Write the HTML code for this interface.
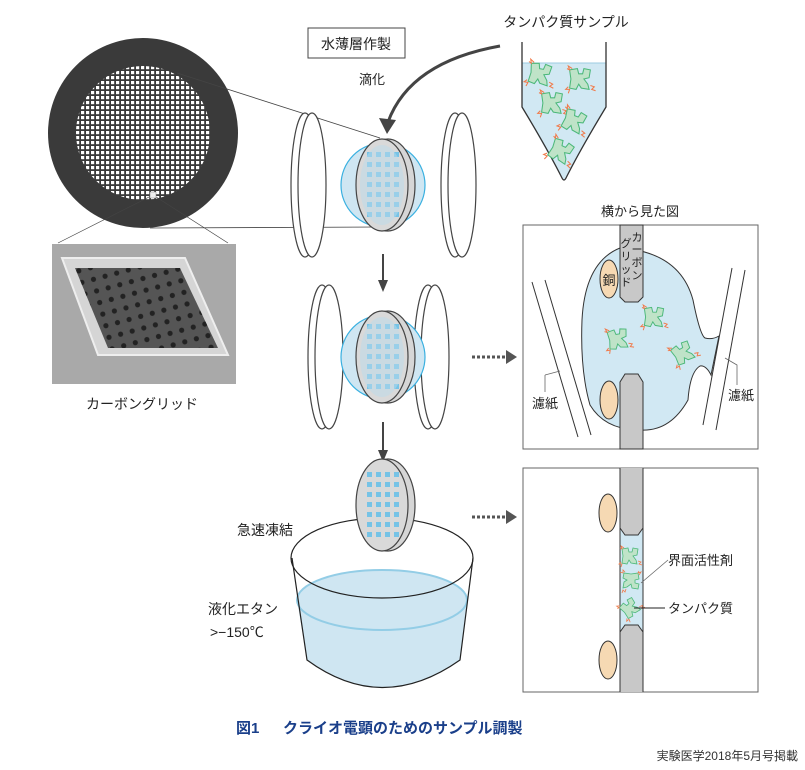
<!DOCTYPE html>
<html><head><meta charset="utf-8"><style>
html,body{margin:0;padding:0;background:#fff}
svg{display:block}
text{font-family:"Liberation Sans","Noto Sans CJK JP",sans-serif;fill:#222}
</style></head><body>
<svg width="805" height="770" viewBox="0 0 805 770" xmlns="http://www.w3.org/2000/svg">
<defs>
<g id="prot">
<path d="M-8,-7 L-2,-8 L-1,-4 L2,-4 L3,-8 L8,-7 L7,-1 L3,0 L6,4 L7,8 L1,7 L-1,4 L-3,8 L-8,7 L-7,0 Z" fill="#bfe3c8" stroke="#4cb87a" stroke-width="0.8"/>
<path d="M-10,-8 l2,1 l-1,-3 l3,2 M8,5 l3,1 l-2,2 l3,1 M-9,6 l-2,2 l3,0 l-1,3" fill="none" stroke="#f07a4a" stroke-width="0.8"/>
</g>
<g id="gridsq" fill="#76c3e6">
<rect x="-15" y="-33" width="5" height="5"/><rect x="-6" y="-33" width="5" height="5"/><rect x="3" y="-33" width="5" height="5"/><rect x="12" y="-33" width="5" height="5"/>
<rect x="-15" y="-23" width="5" height="5"/><rect x="-6" y="-23" width="5" height="5"/><rect x="3" y="-23" width="5" height="5"/><rect x="12" y="-23" width="5" height="5"/>
<rect x="-15" y="-13" width="5" height="5"/><rect x="-6" y="-13" width="5" height="5"/><rect x="3" y="-13" width="5" height="5"/><rect x="12" y="-13" width="5" height="5"/>
<rect x="-15" y="-3" width="5" height="5"/><rect x="-6" y="-3" width="5" height="5"/><rect x="3" y="-3" width="5" height="5"/><rect x="12" y="-3" width="5" height="5"/>
<rect x="-15" y="7" width="5" height="5"/><rect x="-6" y="7" width="5" height="5"/><rect x="3" y="7" width="5" height="5"/><rect x="12" y="7" width="5" height="5"/>
<rect x="-15" y="17" width="5" height="5"/><rect x="-6" y="17" width="5" height="5"/><rect x="3" y="17" width="5" height="5"/><rect x="12" y="17" width="5" height="5"/>
<rect x="-15" y="27" width="5" height="5"/><rect x="-6" y="27" width="5" height="5"/><rect x="3" y="27" width="5" height="5"/><rect x="12" y="27" width="5" height="5"/>
</g>
<g id="disk">
<ellipse cx="6" cy="0" rx="27" ry="46" fill="#d6d6d6" stroke="#444" stroke-width="1.2"/>
<ellipse cx="0" cy="0" rx="26" ry="46" fill="#d9d9d9" stroke="#444" stroke-width="1.2"/>
<use href="#gridsq"/>
</g>
<g id="lens" fill="none" stroke="#444" stroke-width="1.2">
<ellipse cx="0" cy="0" rx="14" ry="72" fill="#fff"/>
<ellipse cx="7" cy="0" rx="14" ry="72" fill="#fff"/>
</g>
<pattern id="mesh" width="5" height="5" patternUnits="userSpaceOnUse">
<rect width="5" height="5" fill="#3a3a3a"/><rect x="1" y="1" width="3.2" height="3.2" fill="#fff"/>
</pattern>
<pattern id="holes" width="12" height="12" patternUnits="userSpaceOnUse" patternTransform="rotate(-15)">
<circle cx="6" cy="6" r="2.6" fill="#222"/>
</pattern>
</defs>

<!-- left grid -->
<circle cx="143" cy="133" r="95" fill="#3a3a3a"/>
<circle cx="143" cy="133" r="67" fill="url(#mesh)"/>
<line x1="177" y1="73" x2="380" y2="138" stroke="#444" stroke-width="0.8"/>
<line x1="150" y1="228" x2="380" y2="227" stroke="#444" stroke-width="0.8"/>
<line x1="153" y1="195" x2="58" y2="243" stroke="#444" stroke-width="0.7"/>
<line x1="153" y1="195" x2="228" y2="243" stroke="#444" stroke-width="0.7"/>
<rect x="150" y="192" width="6" height="6" fill="#eee" stroke="#888" stroke-width="0.5"/>
<rect x="52" y="244" width="184" height="140" fill="#a9a9a9"/>
<path d="M62,258 L185,258 L228,355 L98,355 Z" fill="#d5d5d5" stroke="#eee" stroke-width="2"/>
<path d="M75,268 L180,268 L218,348 L108,348 Z" fill="#555"/>
<path d="M75,268 L180,268 L218,348 L108,348 Z" fill="url(#holes)"/>
<text x="142" y="409" font-size="14" text-anchor="middle">カーボングリッド</text>

<!-- top labels -->
<rect x="308" y="28" width="97" height="30" fill="#fff" stroke="#444" stroke-width="1"/>
<text x="356" y="49" font-size="14" text-anchor="middle">水薄層作製</text>
<text x="372" y="84" font-size="13" text-anchor="middle">滴化</text>
<text x="566" y="27" font-size="14" text-anchor="middle">タンパク質サンプル</text>
<path d="M500,46 Q410,62 388,122" fill="none" stroke="#444" stroke-width="3"/>
<path d="M379,118 L387,134 L396,120 Z" fill="#444"/>

<!-- tube -->
<path d="M522,63 L606,63 L606,107 Q580,150 566,178 Q564,182 562,178 Q546,150 522,107 Z" fill="#d1e8f3"/>
<line x1="522" y1="63" x2="606" y2="63" stroke="#9ccbe0" stroke-width="1"/>
<path d="M522,42 L522,107 Q548,150 562,178 Q564,182 566,178 Q580,150 606,107 L606,42" fill="none" stroke="#333" stroke-width="1.3"/>
<use href="#prot" transform="translate(540,74) rotate(10) scale(1.3)"/>
<use href="#prot" transform="translate(580,79) scale(1.3)"/>
<use href="#prot" transform="translate(552,103) scale(1.3)"/>
<use href="#prot" transform="translate(574,121) rotate(20) scale(1.3)"/>
<use href="#prot" transform="translate(561,151) rotate(25) scale(1.3)"/>

<!-- row 1 -->
<use href="#lens" transform="translate(305,185)"/>
<use href="#lens" transform="translate(455,185)"/>
<circle cx="383" cy="185" r="42" fill="#cfe6f2" stroke="#3ab0e0" stroke-width="1.2"/>
<use href="#disk" transform="translate(382,185)"/>
<ellipse cx="382" cy="185" rx="22" ry="40" fill="#bcdcec" opacity="0.5"/>
<line x1="383" y1="254" x2="383" y2="280" stroke="#444" stroke-width="2"/>
<path d="M378,280 L383,292 L388,280 Z" fill="#444"/>

<!-- row 2 -->
<use href="#lens" transform="translate(322,357)"/>
<use href="#lens" transform="translate(428,357)"/>
<circle cx="383" cy="357" r="42" fill="#cfe6f2" stroke="#3ab0e0" stroke-width="1.2"/>
<use href="#disk" transform="translate(382,357)"/>
<ellipse cx="382" cy="357" rx="22" ry="40" fill="#bcdcec" opacity="0.5"/>
<line x1="383" y1="422" x2="383" y2="450" stroke="#444" stroke-width="2"/>
<path d="M378,450 L383,462 L388,450 Z" fill="#444"/>
<line x1="472" y1="357" x2="505" y2="357" stroke="#555" stroke-width="3" stroke-dasharray="3,2"/>
<path d="M506,350 L517,357 L506,364 Z" fill="#555"/>

<!-- beaker -->
<path d="M297,600 L307,660 Q382,715 460,660 L467,600 A85,30 0 0 0 297,600 Z" fill="#cfe6f2"/>
<ellipse cx="382" cy="600" rx="85" ry="30" fill="none" stroke="#93cde6" stroke-width="2"/>
<path d="M292,558 L307,660 Q382,715 460,660 L473,558" fill="none" stroke="#222" stroke-width="1.2"/>
<ellipse cx="382" cy="558" rx="91" ry="40" fill="none" stroke="#222" stroke-width="1.2"/>
<use href="#disk" transform="translate(382,505)"/>
<text x="237" y="535" font-size="14">急速凍結</text>
<text x="208" y="614" font-size="14">液化エタン</text>
<text x="210" y="637" font-size="14">&gt;−150℃</text>
<line x1="472" y1="517" x2="505" y2="517" stroke="#555" stroke-width="3" stroke-dasharray="3,2"/>
<path d="M506,510 L517,517 L506,524 Z" fill="#555"/>

<!-- panel 1 -->
<text x="640" y="216" font-size="13" text-anchor="middle">横から見た図</text>
<rect x="523" y="225" width="235" height="224" fill="#fff" stroke="#666" stroke-width="1"/>
<line x1="532" y1="282" x2="578" y2="437" stroke="#333" stroke-width="1"/>
<line x1="545" y1="280" x2="591" y2="435" stroke="#333" stroke-width="1"/>
<line x1="732" y1="268" x2="703" y2="425" stroke="#333" stroke-width="1"/>
<line x1="745" y1="270" x2="716" y2="430" stroke="#333" stroke-width="1"/>
<path d="M620,248 Q680,252 693,300 Q700,335 705,338 Q712,340 719,336 L711,375 Q706,365 700,366 Q690,372 688,400 Q670,432 640,430 Q605,430 590,405 Q580,370 582,320 Q585,262 620,248 Z" fill="#d1e8f3" stroke="#333" stroke-width="1"/>
<path d="M620,225 L643,225 L643,297 L638,302 L625,302 L620,297 Z" fill="#c8c8c8" stroke="#333" stroke-width="1"/>
<path d="M620,382 L625,374 L638,374 L643,382 L643,449 L620,449 Z" fill="#c8c8c8" stroke="#333" stroke-width="1"/>
<ellipse cx="609" cy="279" rx="9" ry="19" fill="#f6d9b3" stroke="#333" stroke-width="1"/>
<ellipse cx="609" cy="400" rx="9" ry="19" fill="#f6d9b3" stroke="#333" stroke-width="1"/>
<text x="609" y="285" font-size="13" text-anchor="middle">銅</text>
<g font-size="11" text-anchor="middle">
<text x="637" y="241">カ</text><text x="637" y="253">ー</text><text x="637" y="266">ボ</text><text x="637" y="279">ン</text>
<text x="626" y="247">グ</text><text x="626" y="260">リ</text><text x="626" y="273">ッ</text><text x="626" y="286">ド</text>
</g>
<use href="#prot" transform="translate(654,317) scale(1.2)"/>
<use href="#prot" transform="translate(618,339) rotate(-10) scale(1.2)"/>
<use href="#prot" transform="translate(683,353) rotate(-30) scale(1.2)"/>
<path d="M545,375 L545,392" stroke="#666" stroke-width="0.8" fill="none"/>
<path d="M545,375 L560,371" stroke="#666" stroke-width="0.8"/>
<text x="532" y="408" font-size="13">濾紙</text>
<path d="M737,385 L737,365 L725,358" stroke="#666" stroke-width="0.8" fill="none"/>
<text x="728" y="400" font-size="13">濾紙</text>

<!-- panel 2 -->
<rect x="523" y="468" width="235" height="224" fill="#fff" stroke="#666" stroke-width="1"/>
<rect x="620" y="530" width="23" height="100" fill="#d1e8f3"/>
<path d="M620,468 L643,468 L643,528 L638,535 L625,535 L620,528 Z" fill="#c8c8c8"/>
<path d="M620,692 L643,692 L643,632 L638,625 L625,625 L620,632 Z" fill="#c8c8c8"/>
<line x1="620" y1="468" x2="620" y2="692" stroke="#333" stroke-width="1"/>
<line x1="643" y1="468" x2="643" y2="692" stroke="#333" stroke-width="1"/>
<path d="M620,528 L625,535 L638,535 L643,528 M620,632 L625,625 L638,625 L643,632" fill="none" stroke="#333" stroke-width="1"/>
<ellipse cx="608" cy="513" rx="9" ry="19" fill="#f6d9b3" stroke="#333" stroke-width="1"/>
<ellipse cx="608" cy="660" rx="9" ry="19" fill="#f6d9b3" stroke="#333" stroke-width="1"/>
<use href="#prot" transform="translate(630,556)"/>
<use href="#prot" transform="translate(631,581) rotate(90)"/>
<use href="#prot" transform="translate(630,608) rotate(-40)"/>
<line x1="641" y1="583" x2="668" y2="560" stroke="#666" stroke-width="0.8"/>
<line x1="634" y1="608" x2="665" y2="608" stroke="#222" stroke-width="1"/>
<text x="668" y="565" font-size="13">界面活性剤</text>
<text x="668" y="613" font-size="13">タンパク質</text>

<!-- caption -->
<text x="236" y="733" font-size="15" font-weight="bold" style="fill:#1a3f8a">図1</text>
<text x="283" y="733" font-size="15" font-weight="bold" style="fill:#1a3f8a">クライオ電顕のためのサンプル調製</text>
<text x="798" y="760" font-size="12" text-anchor="end" style="fill:#333">実験医学2018年5月号掲載</text>
</svg>
</body></html>
